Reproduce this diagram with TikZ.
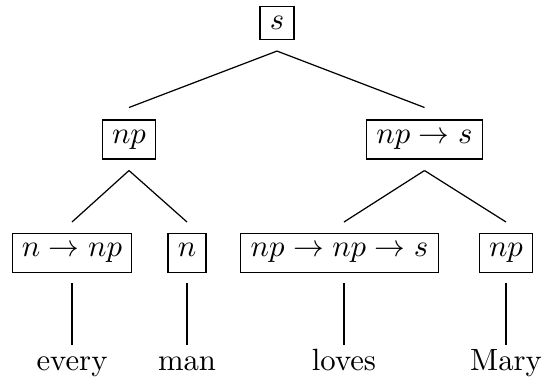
\documentclass[tikz,border=0pt]{standalone}
\usetikzlibrary{calc}
\begin{document}
\begin{tikzpicture}[x=0.3257pt,y=-0.3257pt,
  cat/.style={draw,line width=0.4pt,inner sep=3.2pt},
  catrow/.style={cat,text height=4.3pt,text depth=1.94pt},
  word/.style={anchor=base,inner sep=0pt},
  edge/.style={line width=0.4pt}]
\useasboundingbox (0,0) rectangle (542,376);
% nodes
\node[cat] (s) at (277,23) {$s$};
\node[catrow] (np1) at (129,139.5) {$np$};
\node[catrow] (vp) at (424.5,139.5) {$np \to s$};
\node[catrow] (det) at (72,253) {$n \to np$};
\node[catrow] (n) at (187,253) {$n$};
\node[catrow] (tv) at (339.5,253) {$np \to np \to s$};
\node[catrow] (np2) at (506,253) {$np$};
\node[word] (w1) at (72,370) {every};
\node[word] (w2) at (187,370) {man};
\node[word] (w3) at (344,370) {loves};
\node[word] (w4) at (506,370) {Mary};
% edges
\draw[edge] ($(s.south)+(0,11)$) -- ($(np1.north)+(0,-12)$);
\draw[edge] ($(s.south)+(0,11)$) -- ($(vp.north)+(0,-12)$);
\draw[edge] ($(np1.south)+(0,11)$) -- ($(det.north)+(0,-11)$);
\draw[edge] ($(np1.south)+(0,11)$) -- ($(n.north)+(0,-11)$);
\draw[edge] ($(vp.south)+(0,11)$) -- ($(tv.north)+(4.5,-11)$);
\draw[edge] ($(vp.south)+(0,11)$) -- ($(np2.north)+(0,-11)$);
\draw[edge] ($(w1.base)+(0,-87)$) -- ($(w1.base)+(0,-25)$);
\draw[edge] ($(w2.base)+(0,-87)$) -- ($(w2.base)+(0,-25)$);
\draw[edge] ($(w3.base)+(0,-87)$) -- ($(w3.base)+(0,-25)$);
\draw[edge] ($(w4.base)+(0,-87)$) -- ($(w4.base)+(0,-25)$);
\end{tikzpicture}
\end{document}
